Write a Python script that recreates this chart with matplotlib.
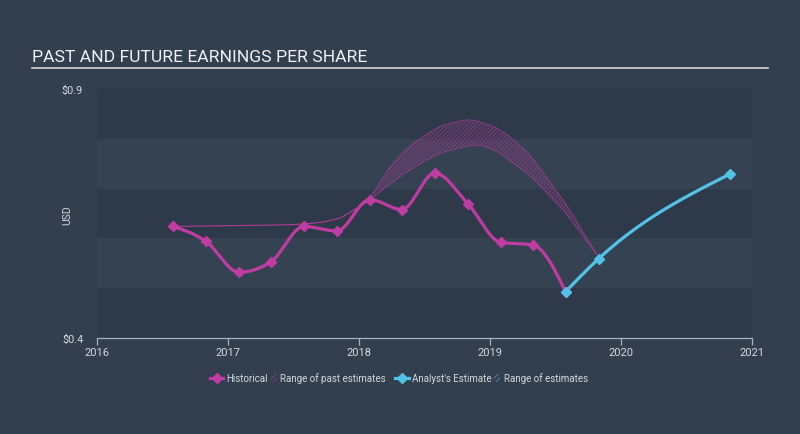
import matplotlib
matplotlib.use("Agg")
import matplotlib.pyplot as plt
import matplotlib.dates as mdates
import numpy as np
import pandas as pd
from matplotlib.lines import Line2D
from matplotlib.patches import Rectangle

# ---------------- data ----------------
hist_dates = ["2016-07-31", "2016-10-31", "2017-01-31", "2017-04-30", "2017-07-31",
              "2017-10-31", "2018-01-31", "2018-04-30", "2018-07-31", "2018-10-31",
              "2019-01-31", "2019-04-30", "2019-07-31"]
hist_eps = [0.624, 0.594, 0.532, 0.553, 0.624, 0.615, 0.678, 0.658, 0.731, 0.670,
            0.592, 0.587, 0.493]

fcst_dates = ["2019-07-31", "2019-10-31", "2020-10-31"]
fcst_eps = [0.493, 0.559, 0.729]

past_est_dates = ["2016-07-31", "2017-01-31", "2017-07-31", "2017-10-31", "2017-12-15",
                  "2018-01-22", "2018-03-28", "2018-05-14", "2018-06-28", "2018-08-14",
                  "2018-09-29", "2018-11-05", "2018-12-08", "2019-01-23", "2019-03-11",
                  "2019-04-27", "2019-06-11", "2019-07-28", "2019-09-13", "2019-10-31"]
past_est_low = [0.624, 0.626, 0.629, 0.639, 0.656,
                0.673, 0.709, 0.733, 0.753, 0.770,
                0.780, 0.786, 0.786, 0.773, 0.749,
                0.723, 0.689, 0.653, 0.609, 0.562]
past_est_high = [0.624, 0.626, 0.629, 0.639, 0.656,
                 0.673, 0.743, 0.780, 0.804, 0.824,
                 0.834, 0.838, 0.833, 0.820, 0.796,
                 0.763, 0.719, 0.673, 0.619, 0.562]

y_ticks = [0.4, 0.9]
y_tick_labels = ["$0.4", "$0.9"]
x_years = [2016, 2017, 2018, 2019, 2020, 2021]

# ---------------- style ----------------
FIG_BG = "#333f4f"
BAND_DARK = "#2e3a49"
BAND_LIGHT = "#344252"
MAGENTA = "#c03ca2"
BLUE = "#52c2e8"
TEXT = "#d4d8dd"
FONT = ["Roboto", "DejaVu Sans"]
plt.rcParams["font.family"] = FONT
plt.rcParams["hatch.linewidth"] = 0.5


def hermite(x, y, m, n=40):
    x = np.asarray(x, float)
    y = np.asarray(y, float)
    h = np.diff(x)
    xs_all, ys_all = [], []
    for i in range(len(x) - 1):
        t = np.linspace(0, 1, n, endpoint=(i == len(x) - 2))
        h00 = 2 * t**3 - 3 * t**2 + 1
        h10 = t**3 - 2 * t**2 + t
        h01 = -2 * t**3 + 3 * t**2
        h11 = t**3 - t**2
        xs_all.append(x[i] + t * h[i])
        ys_all.append(h00 * y[i] + h10 * h[i] * m[i] + h01 * y[i + 1] + h11 * h[i] * m[i + 1])
    return np.concatenate(xs_all), np.concatenate(ys_all)


def monotone(x, y, n=40):
    """Monotone cubic (d3 curveMonotoneX style) rendering of a polyline."""
    x = np.asarray(x, float)
    y = np.asarray(y, float)
    if len(x) < 3:
        xs = np.linspace(x[0], x[-1], n)
        return xs, np.interp(xs, x, y)
    h = np.diff(x)
    s = np.diff(y) / h
    m = np.zeros_like(y)
    for i in range(1, len(x) - 1):
        p = (s[i - 1] * h[i] + s[i] * h[i - 1]) / (h[i - 1] + h[i])
        m[i] = (np.sign(s[i - 1]) + np.sign(s[i])) * min(abs(s[i - 1]), abs(s[i]), 0.5 * abs(p))
    m[0] = (3 * s[0] - m[1]) / 2
    m[-1] = (3 * s[-1] - m[-2]) / 2
    return hermite(x, y, m, n)


def catmull(x, y, n=30):
    """Catmull-Rom style smooth rendering of a polyline."""
    x = np.asarray(x, float)
    y = np.asarray(y, float)
    s = np.diff(y) / np.diff(x)
    m = np.zeros_like(y)
    m[1:-1] = (y[2:] - y[:-2]) / (x[2:] - x[:-2])
    m[0] = s[0]
    m[-1] = s[-1]
    return hermite(x, y, m, n)


def to_num(dates):
    return mdates.date2num(pd.to_datetime(dates).to_pydatetime())


fig = plt.figure(figsize=(8, 4.35), dpi=100)
fig.patch.set_facecolor(FIG_BG)
ax = fig.add_axes([97 / 800, 1 - 339 / 435, (752 - 97) / 800, (339 - 90) / 435])
ax.set_facecolor(BAND_LIGHT)

# alternating bands
for lo in [0.4, 0.6, 0.8]:
    ax.axhspan(lo, lo + 0.1, color=BAND_DARK, lw=0, zorder=0)

# past estimates range
xe = to_num(past_est_dates)
xl, yl = catmull(xe, past_est_low)
xh, yh = catmull(xe, past_est_high)
ax.fill_between(xl, yl, yh, facecolor=MAGENTA, alpha=0.12, linewidth=0, zorder=2)
ax.fill_between(xl, yl, yh, facecolor="none", edgecolor=MAGENTA, hatch="////////",
                linewidth=0, alpha=0.6, zorder=2)
split = to_num(["2018-01-22"])[0]
pre = xl <= split
ax.plot(xl[pre], yl[pre], color=MAGENTA, lw=0.8, alpha=0.9, zorder=2)
ax.plot(xl[~pre], yl[~pre], color=MAGENTA, lw=0.7, ls=(0, (1.5, 1)), alpha=0.9, zorder=2)
ax.plot(xh[~pre], yh[~pre], color=MAGENTA, lw=0.7, ls=(0, (1.5, 1)), alpha=0.9, zorder=2)

# historical
xh_ = to_num(hist_dates)
sx, sy = monotone(xh_, hist_eps)
ax.plot(sx, sy, color=MAGENTA, lw=2.3, solid_capstyle="round", zorder=3)
ax.plot(xh_, hist_eps, ls="none", marker="D", ms=4.8, color=MAGENTA, zorder=4)

# forecast
xf = to_num(fcst_dates)
fx, fy = monotone(xf, fcst_eps)
ax.plot(fx, fy, color=BLUE, lw=2.3, solid_capstyle="round", zorder=3)
ax.plot(xf, fcst_eps, ls="none", marker="D", ms=4.8, color=BLUE, zorder=4)

# axes
ax.set_xlim(to_num(["2016-01-01"])[0], to_num(["2021-01-01"])[0])
ax.set_ylim(0.4, 0.9)
ax.set_xticks(to_num([f"{y}-01-01" for y in x_years]))
ax.set_xticklabels([str(y) for y in x_years])
ax.set_yticks(y_ticks)
ax.set_yticklabels(y_tick_labels)
for sp in ["top", "right", "left"]:
    ax.spines[sp].set_visible(False)
ax.spines["bottom"].set_color("#aab2bb")
ax.spines["bottom"].set_linewidth(0.9)
ax.tick_params(axis="x", colors="#aab2bb", labelcolor=TEXT, labelsize=8,
               length=5, width=0.9, pad=1.5)
ax.tick_params(axis="y", length=0, labelcolor=TEXT, labelsize=7.8, pad=10)

fig.text(67 / 800, 1 - 215 / 435, "USD", rotation=90, color=TEXT, fontsize=7.5,
         ha="center", va="center")

# title
fig.text(32 / 800, 1 - 57 / 435, "PAST AND FUTURE EARNINGS PER SHARE", color="#eef0f2",
         fontsize=12.6, ha="left", va="center")
fig.add_artist(Line2D([32 / 800, 768 / 800], [1 - 68.5 / 435, 1 - 68.5 / 435],
                      color="#e2e5e8", lw=1.1))

# legend (manual)
ly = 1 - 379 / 435


def fx_(px):
    return px / 800


fig.add_artist(Line2D([fx_(210), fx_(223)], [ly, ly], color=MAGENTA, lw=2.3))
fig.add_artist(Line2D([fx_(216.5)], [ly], color=MAGENTA, marker="D", ms=5, ls="none"))
fig.text(fx_(226.5), ly, "Historical", color=TEXT, fontsize=7.0, ha="left", va="center")
fig.add_artist(Rectangle((fx_(270.5), ly - 4 / 435), 6 / 800, 8 / 435, facecolor="none",
                         edgecolor=MAGENTA, hatch="//////", lw=0, alpha=0.8,
                         transform=fig.transFigure))
fig.text(fx_(279.5), ly, "Range of past estimates", color=TEXT, fontsize=7.0,
         ha="left", va="center")
fig.add_artist(Line2D([fx_(395), fx_(409)], [ly, ly], color=BLUE, lw=2.3))
fig.add_artist(Line2D([fx_(402)], [ly], color=BLUE, marker="D", ms=5, ls="none"))
fig.text(fx_(412.5), ly, "Analyst's Estimate", color=TEXT, fontsize=7.0, ha="left",
         va="center")
fig.add_artist(Rectangle((fx_(494), ly - 4 / 435), 6 / 800, 8 / 435, facecolor="none",
                         edgecolor=BLUE, hatch="//////", lw=0, alpha=0.8,
                         transform=fig.transFigure))
fig.text(fx_(503.5), ly, "Range of estimates", color=TEXT, fontsize=7.0, ha="left",
         va="center")

fig.savefig("out.png", dpi=100, facecolor=FIG_BG)
